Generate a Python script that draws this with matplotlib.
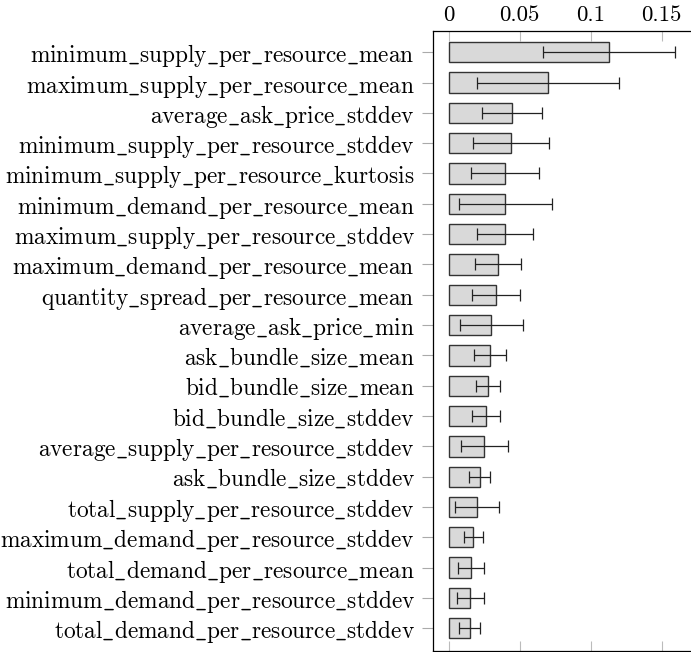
import numpy as np
import matplotlib.pyplot as plt

plt.rcParams["font.family"] = ["cmr10", "DejaVu Serif"]
plt.rcParams["axes.formatter.use_mathtext"] = True
plt.rcParams["mathtext.fontset"] = "cm"

features = [
    "minimum_supply_per_resource_mean",
    "maximum_supply_per_resource_mean",
    "average_ask_price_stddev",
    "minimum_supply_per_resource_stddev",
    "minimum_supply_per_resource_kurtosis",
    "minimum_demand_per_resource_mean",
    "maximum_supply_per_resource_stddev",
    "maximum_demand_per_resource_mean",
    "quantity_spread_per_resource_mean",
    "average_ask_price_min",
    "ask_bundle_size_mean",
    "bid_bundle_size_mean",
    "bid_bundle_size_stddev",
    "average_supply_per_resource_stddev",
    "ask_bundle_size_stddev",
    "total_supply_per_resource_stddev",
    "maximum_demand_per_resource_stddev",
    "total_demand_per_resource_mean",
    "minimum_demand_per_resource_stddev",
    "total_demand_per_resource_stddev",
]
importance = [0.1129, 0.0697, 0.0446, 0.0439, 0.0399, 0.0399, 0.0397, 0.0350,
              0.0336, 0.0300, 0.0291, 0.0277, 0.0265, 0.0251, 0.0218, 0.0202,
              0.0173, 0.0155, 0.0152, 0.0148]
std = [0.0462, 0.0499, 0.0212, 0.0268, 0.0240, 0.0329, 0.0199, 0.0161,
       0.0169, 0.0220, 0.0113, 0.0085, 0.0098, 0.0164, 0.0074, 0.0154,
       0.0068, 0.0092, 0.0094, 0.0074]


def tex_label(name):
    # cmr10 has a dot accent where "_" would be, so go through mathtext
    return r"$\mathrm{" + name.replace("_", r"\_") + "}$"


fig = plt.figure(figsize=(6.91, 6.52), dpi=100)
ax = fig.add_axes([433 / 691, 1 / 652, 1 - 433 / 691, 620 / 652])

y = np.arange(len(features))
ax.barh(y, importance, height=0.67, color="#d9d9d9", edgecolor="#333333",
        linewidth=1.0, zorder=2)
ax.errorbar(importance, y, xerr=std, fmt="none", ecolor="#222222",
            elinewidth=0.9, capsize=4.5, capthick=0.9, zorder=3)

ax.set_ylim(len(features) - 0.25, -0.70)
ax.set_xlim(-0.011, 0.1706)
ax.set_yticks(y)
ax.set_yticklabels([tex_label(f) for f in features], fontsize=16.8)

ax.set_xticks([0, 0.05, 0.1, 0.15])
ax.set_xticklabels(["0", "0.05", "0.1", "0.15"], fontsize=16.5)
ax.xaxis.set_ticks_position("both")
ax.tick_params(axis="x", direction="in", length=7, width=0.8, color="#bbbbbb",
               labeltop=True, labelbottom=False, pad=4)
ax.tick_params(axis="y", direction="out", length=8, width=0.8, color="#aaaaaa",
               pad=5)

ax.spines["right"].set_visible(False)
for side in ("left", "top", "bottom"):
    ax.spines[side].set_linewidth(0.9)

fig.savefig("out.png", dpi=100)
